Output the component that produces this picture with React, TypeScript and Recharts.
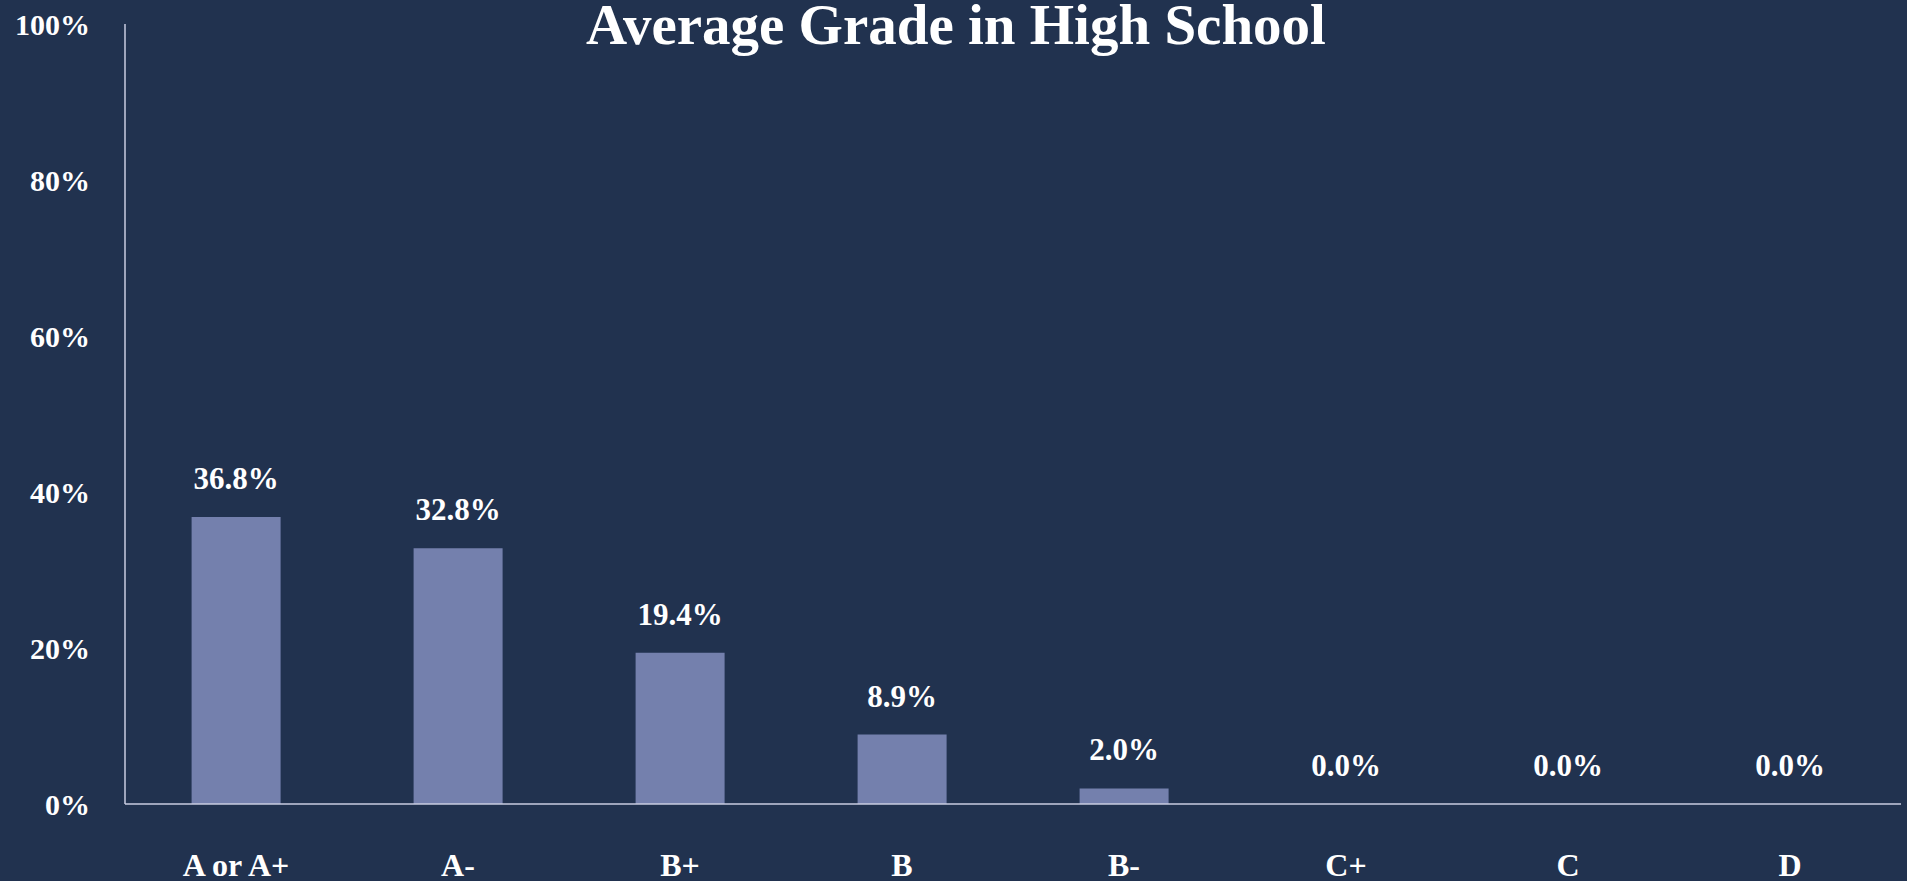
import { Bar, ComposedChart, LabelList, Line, XAxis, YAxis } from "recharts";

const grades = ["A or A+", "A-", "B+", "B", "B-", "C+", "C", "D"];
const shares = [36.8, 32.8, 19.4, 8.9, 2.0, 0.0, 0.0, 0.0];
const yTicks = [0, 20, 40, 60, 80, 100];

const data = grades.map((grade, i) => ({ grade, share: shares[i] }));

const font = "'Liberation Serif', 'Times New Roman', serif";
const bg = "#21324f";
const axisColor = "#c9cde0";

export default function App() {
  return (
    <div
      style={{
        position: "absolute",
        left: 0,
        top: 0,
        width: 1907,
        height: 881,
        background: bg,
        overflow: "hidden",
      }}
    >
      <div
        style={{
          position: "absolute",
          left: 0,
          top: -8,
          width: 1912,
          textAlign: "center",
          color: "#ffffff",
          fontFamily: font,
          fontWeight: "bold",
          fontSize: 57,
          lineHeight: "66px",
          zIndex: 2,
        }}
      >
        Average Grade in High School
      </div>
      <ComposedChart
        width={1907}
        height={881}
        data={data}
        margin={{ top: 24, right: 6, left: 0, bottom: 0 }}
        barCategoryGap="30%"
      >
        <XAxis
          dataKey="grade"
          axisLine={{ stroke: axisColor, strokeWidth: 1.5 }}
          tickLine={false}
          tickSize={0}
          tickMargin={49}
          interval={0}
          tick={{ fill: "#ffffff", fontFamily: font, fontWeight: "bold", fontSize: 32 }}
          height={77}
        />
        <YAxis
          domain={[0, 100]}
          ticks={yTicks}
          width={125}
          axisLine={{ stroke: axisColor, strokeWidth: 1.5 }}
          tickLine={false}
          tickSize={0}
          tickMargin={35}
          tickFormatter={(v: number) => `${v}%`}
          tick={{ fill: "#ffffff", fontFamily: font, fontWeight: "bold", fontSize: 30 }}
          interval={0}
        />
        <Bar dataKey="share" fill="#7480ad" isAnimationActive={false} />
        <Line
          dataKey="share"
          stroke="none"
          dot={false}
          activeDot={false}
          isAnimationActive={false}
        >
          <LabelList
            dataKey="share"
            position="top"
            offset={28}
            formatter={(v: any) => `${Number(v).toFixed(1)}%`}
            fill="#ffffff"
            fontFamily={font}
            fontWeight="bold"
            fontSize={31}
          />
        </Line>
      </ComposedChart>
    </div>
  );
}
